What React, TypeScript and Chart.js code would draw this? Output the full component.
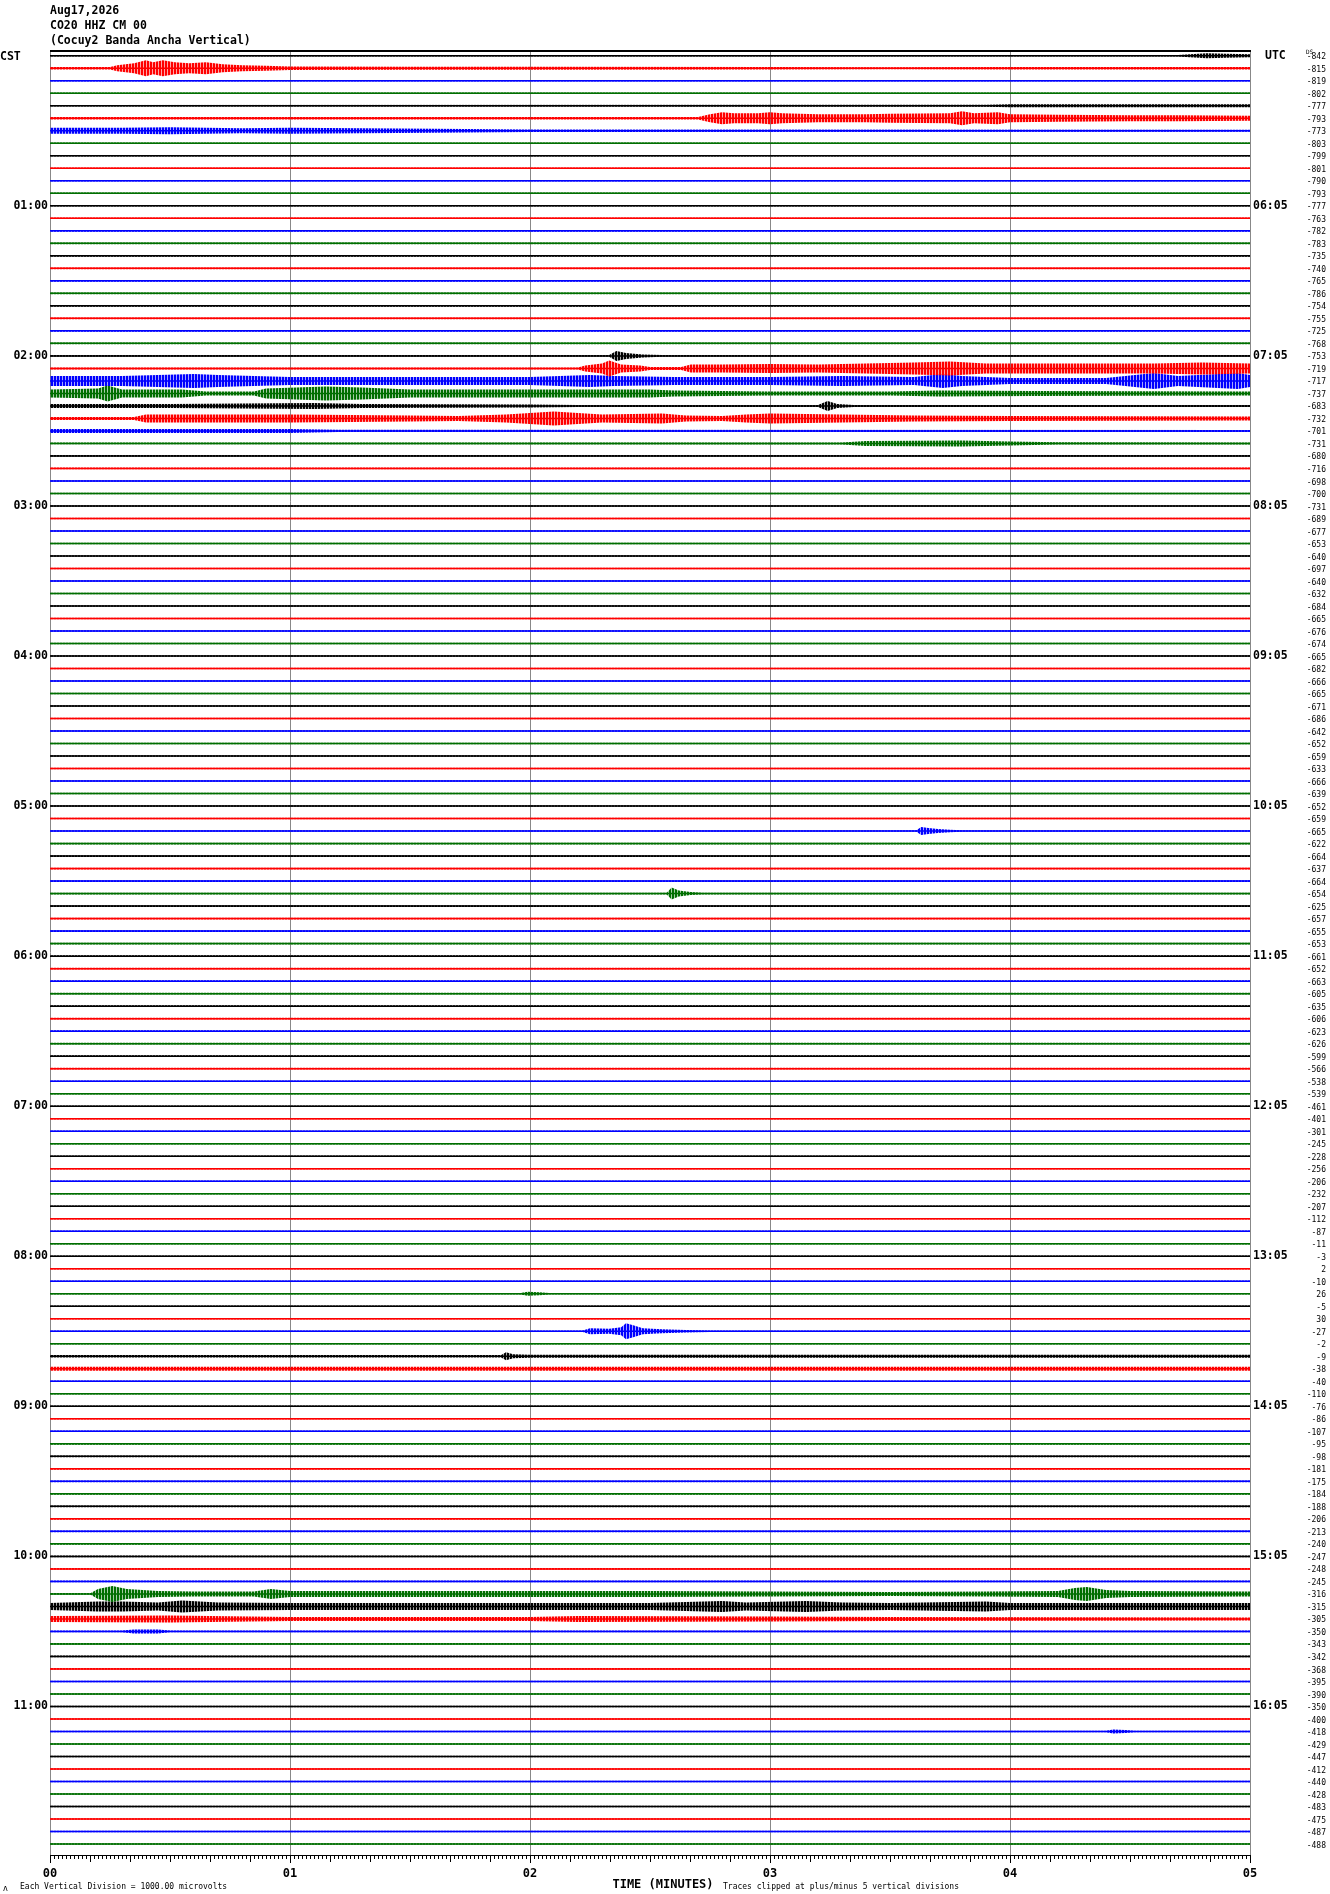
import React, { useEffect, useRef } from "react";
import { Chart, registerables } from "chart.js";

Chart.register(...registerables);

// ---------------- data ----------------
const TITLE_LINES = ["Aug17,2026", "CO20 HHZ CM 00", "(Cocuy2 Banda Ancha Vertical)"];
const LEFT_ZONE = "CST";
const RIGHT_ZONE = "UTC";
const TRACE_COUNT = 144;
const TRACES_PER_HOUR = 12;
const TRACE_COLORS = ["#000000", "#ff0000", "#0000ff", "#006e00"];

const TRACE_OFFSETS = [
  -842, -815, -819, -802, -777, -793, -773, -803, -799, -801, -790, -793,
  -777, -763, -782, -783, -735, -740, -765, -786, -754, -755, -725, -768,
  -753, -719, -717, -737, -683, -732, -701, -731, -680, -716, -698, -700,
  -731, -689, -677, -653, -640, -697, -640, -632, -684, -665, -676, -674,
  -665, -682, -666, -665, -671, -686, -642, -652, -659, -633, -666, -639,
  -652, -659, -665, -622, -664, -637, -664, -654, -625, -657, -655, -653,
  -661, -652, -663, -605, -635, -606, -623, -626, -599, -566, -538, -539,
  -461, -401, -301, -245, -228, -256, -206, -232, -207, -112, -87, -11,
  -3, 2, -10, 26, -5, 30, -27, -2, -9, -38, -40, -110,
  -76, -86, -107, -95, -98, -181, -175, -184, -188, -206, -213, -240,
  -247, -248, -245, -316, -315, -305, -350, -343, -342, -368, -395, -390,
  -350, -400, -418, -429, -447, -412, -440, -428, -483, -475, -487, -488,
];

const CST_LABELS = ["01:00", "02:00", "03:00", "04:00", "05:00", "06:00", "07:00", "08:00", "09:00", "10:00", "11:00"];
const UTC_LABELS = ["06:05", "07:05", "08:05", "09:05", "10:05", "11:05", "12:05", "13:05", "14:05", "15:05", "16:05"];
const MINUTE_LABELS = ["00", "01", "02", "03", "04", "05"];
const X_TITLE = "TIME (MINUTES)";
const FOOT_LEFT = "Each Vertical Division = 1000.00 microvolts";
const FOOT_RIGHT = "Traces clipped at plus/minus 5 vertical divisions";

// quiet-trace half amplitude (in reference pixels, 12.5 per trace spacing)
const QUIET_AMP = 0.8;
const AMP_PER_TRACE = 12.5;

// envelope of the noisy segments: [minute, half amplitude]
const EVENT_TRACES = [0, 1, 4, 5, 6, 24, 25, 26, 27, 28, 29, 30, 31, 62, 67, 99, 102, 104, 105, 123, 124, 125, 126, 134];
const EVENT_ENVELOPES: number[][][] = [
  [[0, 0.8], [4.7, 0.8], [4.75, 1.5], [4.82, 2.5], [4.9, 2], [5, 1.5]],
  [[0, 1.2], [0.25, 1.3], [0.28, 3], [0.35, 5], [0.4, 8], [0.43, 6], [0.47, 8], [0.52, 6], [0.58, 5], [0.65, 6], [0.72, 4], [0.8, 3], [0.9, 2.5], [1.0, 1.8], [1.5, 1.5], [2.0, 1.4], [3.0, 1.3], [3.5, 1.0], [4.0, 1.2], [5, 1.2]],
  [[0, 0.8], [3.9, 0.9], [4.0, 1.5], [5, 1.5]],
  [[0, 1.2], [2.7, 1.2], [2.75, 4], [2.8, 6], [2.85, 5], [2.95, 5], [3.0, 6], [3.05, 5], [3.2, 4], [3.4, 4], [3.5, 4.5], [3.75, 5], [3.8, 7], [3.85, 5], [3.95, 6], [4.0, 4], [4.2, 3.5], [4.5, 3], [4.7, 3], [5, 2.5]],
  [[0, 3], [0.3, 3], [0.5, 3.5], [0.8, 2.5], [1.0, 3], [1.3, 2.5], [1.6, 2], [2.0, 1.2], [5, 1]],
  [[0, 0.8], [2.33, 0.8], [2.36, 5], [2.4, 3], [2.47, 1.5], [2.55, 0.8], [5, 0.8]],
  [[0, 1], [2.2, 1], [2.23, 3], [2.3, 5], [2.33, 8], [2.38, 4], [2.46, 3], [2.5, 1.5], [2.63, 1.5], [2.67, 4], [2.8, 4], [3.0, 4.5], [3.2, 4], [3.4, 5], [3.6, 6], [3.75, 7], [3.9, 5], [4.0, 5], [4.3, 5], [4.6, 5], [4.8, 6], [5, 5]],
  [[0, 5], [0.3, 5], [0.6, 7], [0.7, 6], [1.0, 4], [1.3, 4], [1.6, 4], [2.0, 4], [2.25, 6], [2.35, 5], [2.6, 4], [3.0, 4], [3.3, 5], [3.6, 4], [3.72, 7], [3.8, 5], [4.0, 3], [4.4, 3], [4.6, 8], [4.7, 5], [4.95, 8], [5, 6]],
  [[0, 4], [0.2, 5], [0.24, 8], [0.3, 4], [0.55, 4], [0.65, 2], [0.85, 2], [0.9, 5], [1.15, 7], [1.3, 6], [1.5, 4], [2.0, 4], [2.5, 4], [2.6, 3], [3.0, 2], [3.5, 2], [3.7, 3], [4.1, 2.5], [5, 2]],
  [[0, 2], [0.5, 2], [1.1, 3], [1.3, 2], [2.0, 1.5], [2.2, 1], [3.2, 1], [3.24, 5], [3.28, 2], [3.35, 1], [5, 1]],
  [[0, 1.5], [0.35, 1.5], [0.4, 4], [0.7, 4], [1.0, 4], [1.5, 3], [1.7, 2.5], [1.9, 4], [2.1, 7], [2.3, 4], [2.55, 5], [2.65, 3], [2.8, 2.5], [2.9, 4], [3.0, 5], [3.3, 4], [3.6, 3], [4.0, 2.5], [5, 2]],
  [[0, 2], [1.0, 2], [1.2, 1.2], [5, 1]],
  [[0, 0.9], [3.3, 1], [3.4, 2.5], [3.8, 3], [4.0, 2], [4.2, 1.2], [5, 1]],
  [[0, 0.8], [3.61, 0.8], [3.63, 4], [3.66, 3], [3.7, 2], [3.75, 1.2], [3.8, 0.8], [5, 0.8]],
  [[0, 0.8], [2.57, 0.8], [2.59, 6], [2.62, 3], [2.67, 1.5], [2.72, 0.8], [5, 0.8]],
  [[0, 0.8], [1.96, 0.8], [1.99, 2], [2.04, 1.5], [2.08, 0.8], [5, 0.8]],
  [[0, 0.8], [2.22, 0.8], [2.25, 3], [2.33, 2.5], [2.38, 4], [2.4, 8], [2.43, 6], [2.47, 3], [2.55, 2], [2.65, 1.2], [2.75, 0.8], [5, 0.8]],
  [[0, 1.2], [1.88, 1.2], [1.9, 4], [1.93, 2], [2.0, 1.5], [5, 1.5]],
  [[0, 2], [5, 2]],
  [[0, 0.8], [0.17, 0.8], [0.2, 5], [0.26, 8], [0.32, 5], [0.45, 3], [0.6, 2.5], [0.85, 2.5], [0.92, 5], [1.0, 3], [1.5, 3], [2.0, 3], [2.5, 3], [3.0, 2.5], [3.5, 2], [3.9, 2.5], [4.2, 3], [4.27, 6], [4.32, 7], [4.4, 4], [4.5, 3], [5, 2.5]],
  [[0, 3.5], [0.2, 5], [0.3, 5], [0.45, 4], [0.55, 6], [0.7, 4], [1.0, 3.5], [1.5, 3.5], [2.0, 3.5], [2.5, 3.5], [2.8, 5.5], [2.9, 4], [3.15, 5.5], [3.3, 4], [3.5, 3.5], [3.9, 5], [4.0, 3.5], [4.5, 3.5], [5, 3.5]],
  [[0, 3], [0.5, 3.5], [1.0, 2], [2.0, 2], [2.2, 3], [3.0, 2.5], [3.5, 2], [5, 1.5]],
  [[0, 0.9], [0.3, 0.9], [0.35, 2], [0.45, 2], [0.5, 0.9], [5, 0.9]],
  [[0, 0.8], [4.4, 0.8], [4.43, 2], [4.48, 1.5], [4.52, 0.8], [5, 0.8]],
];

// ---------------- helpers ----------------
const FONT = '"DejaVu Sans Mono", "Liberation Mono", monospace';

function envelopeFor(i: number): number[][] {
  const k = EVENT_TRACES.indexOf(i);
  return k >= 0 ? EVENT_ENVELOPES[k] : [[0, QUIET_AMP], [5, QUIET_AMP]];
}

function makePattern(color: string): CanvasPattern | string {
  const c = document.createElement("canvas");
  c.width = 3;
  c.height = 1;
  const g = c.getContext("2d");
  if (!g) return color;
  g.fillStyle = color;
  g.fillRect(0, 0, 2, 1);
  g.globalAlpha = 0.35;
  g.fillRect(2, 0, 1, 1);
  const p = g.createPattern(c, "repeat");
  return p || color;
}

const heliPlugin = {
  id: "heli",
  beforeDatasetsDraw(chart: any) {
    const { ctx, chartArea: a, scales } = chart;
    const xs = scales.x;
    ctx.save();
    ctx.strokeStyle = "#888888";
    ctx.lineWidth = 1;
    for (let m = 0; m <= 5; m++) {
      const x = Math.round(xs.getPixelForValue(m)) + 0.5;
      ctx.beginPath();
      ctx.moveTo(x, a.top);
      ctx.lineTo(x, a.bottom);
      ctx.stroke();
    }
    ctx.restore();
  },
  afterDraw(chart: any) {
    const { ctx, chartArea: a, scales } = chart;
    const xs = scales.x;
    const ys = scales.y;
    ctx.save();
    // top border
    ctx.strokeStyle = "#000000";
    ctx.lineWidth = 2;
    ctx.beginPath();
    ctx.moveTo(a.left, a.top + 1);
    ctx.lineTo(a.right + 1, a.top + 1);
    ctx.stroke();
    // bottom axis
    ctx.lineWidth = 1;
    ctx.beginPath();
    ctx.moveTo(a.left, a.bottom + 0.5);
    ctx.lineTo(a.right + 1, a.bottom + 0.5);
    ctx.stroke();
    // ticks, one per second
    for (let s = 0; s <= 300; s++) {
      const x = Math.round(xs.getPixelForValue(s / 60)) + 0.5;
      const len = s % 60 === 0 ? 8 : s % 10 === 0 ? 7 : 4;
      ctx.beginPath();
      ctx.moveTo(x, a.bottom);
      ctx.lineTo(x, a.bottom + len);
      ctx.stroke();
    }
    ctx.fillStyle = "#000000";
    // title
    ctx.font = `bold 11.5px ${FONT}`;
    ctx.textAlign = "left";
    ctx.textBaseline = "middle";
    TITLE_LINES.forEach((t, k) => ctx.fillText(t, a.left, 11.5 + k * 14.8));
    ctx.fillText(LEFT_ZONE, 0, 57);
    ctx.fillText(RIGHT_ZONE, 1265, 56);
    // hour labels
    CST_LABELS.forEach((t, k) => {
      const y = ys.getPixelForValue((k + 1) * TRACES_PER_HOUR);
      ctx.textAlign = "right";
      ctx.fillText(t, a.left - 2, y);
      ctx.textAlign = "left";
      ctx.fillText(UTC_LABELS[k], a.right + 3, y);
    });
    // minute labels
    ctx.textAlign = "center";
    ctx.font = `bold 12px ${FONT}`;
    MINUTE_LABELS.forEach((t, m) => ctx.fillText(t, xs.getPixelForValue(m), a.bottom + 19));
    ctx.fillText(X_TITLE, (a.left + a.right) / 2 + 13, a.bottom + 30);
    // offsets
    ctx.font = `8px ${FONT}`;
    ctx.textAlign = "right";
    TRACE_OFFSETS.forEach((v, i) => {
      ctx.fillText(String(v), 1326, ys.getPixelForValue(i) + 1.5);
    });
    ctx.font = `6px ${FONT}`;
    ctx.textAlign = "left";
    ctx.fillText("DS", 1306, 52);
    // footer
    ctx.font = `8px ${FONT}`;
    ctx.textAlign = "left";
    ctx.fillText(FOOT_LEFT, 20, a.bottom + 32);
    ctx.fillText(FOOT_RIGHT, 723, a.bottom + 32);
    ctx.fillText("\u028c", 3, a.bottom + 34);
    ctx.restore();
  },
};

export default function App() {
  const ref = useRef<HTMLCanvasElement | null>(null);

  useEffect(() => {
    if (!ref.current) return;
    const patterns = TRACE_COLORS.map((c) => makePattern(c));
    const datasets: any[] = [];
    for (let i = 0; i < TRACE_COUNT; i++) {
      const color = TRACE_COLORS[i % 4];
      const env = envelopeFor(i);
      datasets.push({
        data: env.map(([t, amp]) => ({ x: t, y: i - amp / AMP_PER_TRACE })),
        borderColor: "rgba(0,0,0,0)",
        borderWidth: 1,
        pointRadius: 0,
        fill: false,
        tension: 0,
      });
      datasets.push({
        data: env.map(([t, amp]) => ({ x: t, y: i + amp / AMP_PER_TRACE })),
        borderColor: "rgba(0,0,0,0)",
        borderWidth: 1,
        pointRadius: 0,
        fill: "-1",
        backgroundColor: patterns[i % 4],
        tension: 0,
      });
      datasets.push({
        data: [
          { x: 0, y: i },
          { x: 5, y: i },
        ],
        borderColor: color,
        borderWidth: 1.5,
        pointRadius: 0,
        fill: false,
        tension: 0,
      });
    }
    const chart = new Chart(ref.current, {
      type: "line",
      data: { datasets },
      options: {
        animation: false,
        responsive: false,
        devicePixelRatio: 1,
        events: [],
        layout: { padding: { left: 50, right: 80, top: 50, bottom: 39 } },
        scales: {
          x: { type: "linear", min: 0, max: 5, display: false },
          y: { type: "linear", min: -0.46, max: 143.88, reverse: true, display: false },
        },
        plugins: {
          legend: { display: false },
          tooltip: { enabled: false },
        },
      },
      plugins: [heliPlugin],
    } as any);
    return () => chart.destroy();
  }, []);

  return (
    <div style={{ position: "absolute", left: 0, top: 0, width: 1330, height: 1894, background: "#ffffff" }}>
      <canvas ref={ref} width={1330} height={1894} style={{ display: "block" }} />
    </div>
  );
}
